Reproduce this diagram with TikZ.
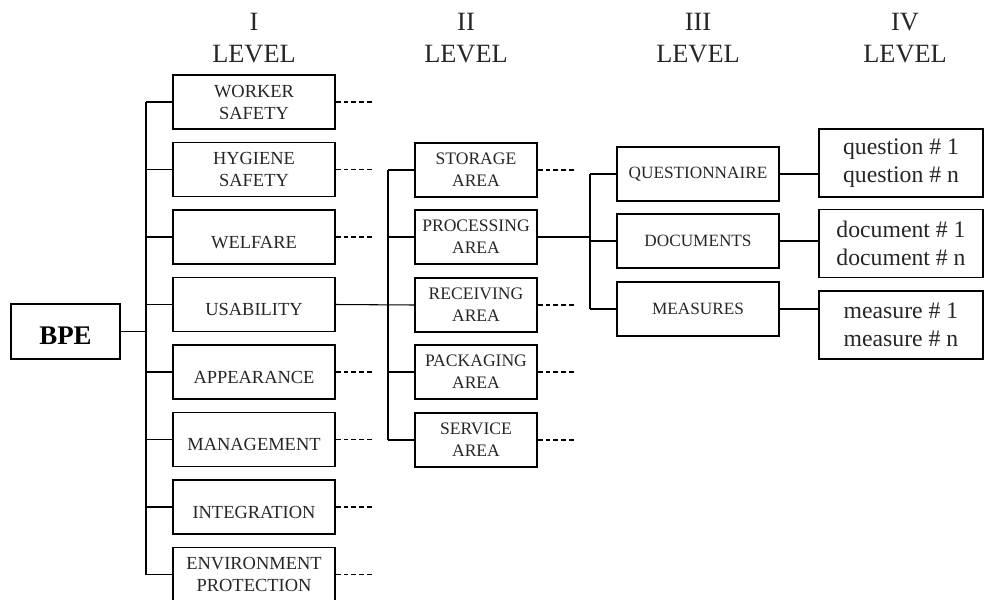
\documentclass[tikz,border=0pt]{standalone}
\usepackage{fontspec}
\setmainfont{Liberation Serif}
\usetikzlibrary{positioning}
\tikzset{lvl/.style={draw, rectangle, line width=0.7pt, align=center, inner sep=1pt, text=black!85},
         boxa/.style={lvl, minimum width=3.24cm, minimum height=1.08cm, font=\fontsize{10.5}{12.5}\selectfont},
         one/.style={text height=12.6pt, text depth=0pt},
         boxb/.style={lvl, minimum width=2.44cm, minimum height=1.08cm, font=\fontsize{10}{12.5}\selectfont},
         boxc/.style={lvl, minimum width=3.24cm, minimum height=1.08cm, font=\fontsize{9.8}{11}\selectfont},
         boxd/.style={lvl, minimum width=3.28cm, minimum height=1.36cm, font=\fontsize{13.5}{16}\selectfont},
         head/.style={align=center, text=black!85, font=\fontsize{15}{18}\selectfont},
         link/.style={line width=0.6pt},
         stub/.style={line width=0.6pt, dash pattern=on 2.8pt off 1.7pt}}

\begin{document}
\begin{tikzpicture}[x=0.02cm, y=-0.02cm]
    \useasboundingbox (0,0) rectangle (984,599);

    % headers
    \node[head] (h1) at (254,38) {I\\LEVEL};
    \node[head] (h2) at (466,38) {II\\LEVEL};
    \node[head] (h3) at (698,38) {III\\LEVEL};
    \node[head] (h4) at (905,38) {IV\\LEVEL};

    \node[lvl, minimum width=2.18cm, minimum height=1.1cm, text=black,
          text height=14.6pt, text depth=0pt,
          font=\fontsize{15.3}{17}\selectfont\bfseries] (bpe) at (65.5,331.5) {BPE};

    % level I
    \node[boxa] (wrk) at (254,102) {WORKER\\SAFETY};
    \node[boxa] (hyg) at (254,169.5) {HYGIENE\\SAFETY};
    \node[boxa, one] (wel) at (254,237) {WELFARE};
    \node[boxa, one] (usa) at (254,304.5) {USABILITY};
    \node[boxa, one] (app) at (254,372) {APPEARANCE};
    \node[boxa, one] (man) at (254,439.5) {MANAGEMENT};
    \node[boxa, one] (int) at (254,507) {INTEGRATION};
    \node[boxa] (env) at (254,574.5) {ENVIRONMENT\\PROTECTION};

    % level II
    \node[boxb] (sto) at (476,170) {STORAGE\\AREA};
    \node[boxb] (pro) at (476,237) {PROCESSING\\AREA};
    \node[boxb] (rec) at (476,305) {RECEIVING\\AREA};
    \node[boxb] (pac) at (476,372) {PACKAGING\\AREA};
    \node[boxb] (ser) at (476,440) {SERVICE\\AREA};

    % level III
    \node[boxc] (qst) at (698,174) {QUESTIONNAIRE};
    \node[boxc] (doc) at (698,241) {DOCUMENTS};
    \node[boxc] (mea) at (698,309) {MEASURES};

    % level IV
    \node[boxd] (qn) at (901,163) {question \# 1\\question \# n};
    \node[boxd] (dn) at (901,243.5) {document \# 1\\document \# n};
    \node[boxd] (mn) at (901,325) {measure \# 1\\measure \# n};

    \coordinate (sp1) at (146,0);
    \coordinate (sp2) at (388,0);
    \coordinate (sp3) at (590,0);

    \draw[link] (sp1 |- wrk.west) -- (sp1 |- env.west);
    \draw[link] (bpe.east) -- (sp1 |- bpe.east);
    \path[link] (sp1 |- wrk.west) edge (wrk.west)
        (sp1 |- hyg.west) edge (hyg.west)
        (sp1 |- wel.west) edge (wel.west)
        (sp1 |- usa.west) edge (usa.west)
        (sp1 |- app.west) edge (app.west)
        (sp1 |- man.west) edge (man.west)
        (sp1 |- int.west) edge (int.west)
        (sp1 |- env.west) edge (env.west);

    \draw[link] (sp2 |- sto.west) -- (sp2 |- ser.west);
    \draw[link] (usa.east) -- (rec.west);
    \path[link] (sp2 |- sto.west) edge (sto.west)
        (sp2 |- pro.west) edge (pro.west)
        (sp2 |- pac.west) edge (pac.west)
        (sp2 |- ser.west) edge (ser.west);

    \draw[link] (sp3 |- qst.west) -- (sp3 |- mea.west);
    \draw[link] (pro.east) -- (sp3 |- pro.east);
    \path[link] (sp3 |- qst.west) edge (qst.west)
        (sp3 |- doc.west) edge (doc.west)
        (sp3 |- mea.west) edge (mea.west);

    \path[link] (qst.east) edge (qst.east -| qn.west)
        (doc.east) edge (doc.east -| dn.west)
        (mea.east) edge (mea.east -| mn.west);

    % unexpanded branches
    \draw[stub] (wrk.east) -- ++(37,0) (hyg.east) -- ++(37,0)
        (wel.east) -- ++(37,0) (app.east) -- ++(37,0)
        (man.east) -- ++(37,0) (int.east) -- ++(37,0)
        (env.east) -- ++(37,0);
    \draw[stub] (sto.east) -- ++(36,0) (rec.east) -- ++(36,0)
        (pac.east) -- ++(36,0) (ser.east) -- ++(36,0);

\end{tikzpicture}
\end{document}
